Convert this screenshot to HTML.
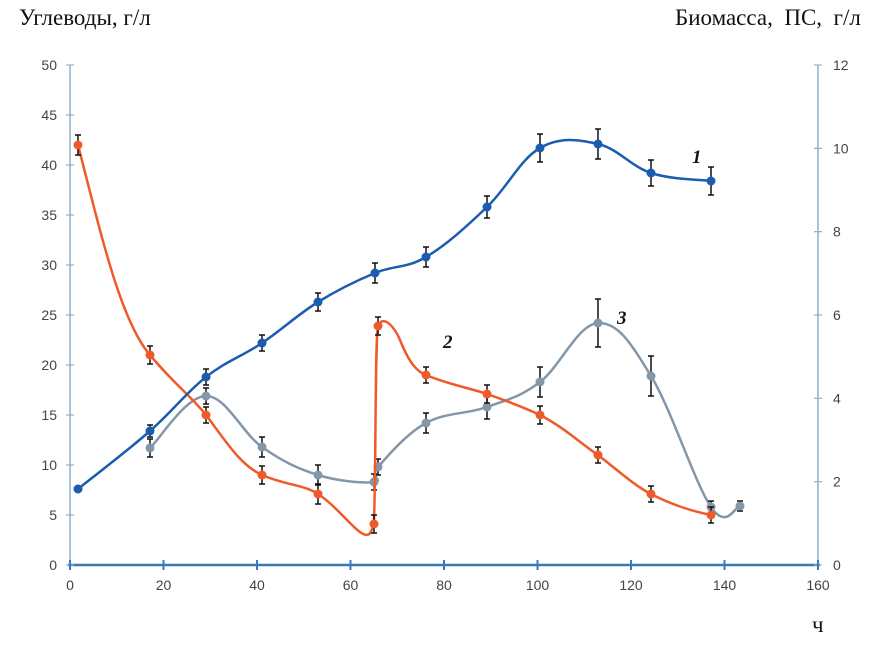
<!DOCTYPE html>
<html><head><meta charset="utf-8"><style>
body{margin:0;background:#fff;}
svg{display:block;}
.t{font-family:"Liberation Sans",sans-serif;font-size:14px;fill:#444;}
.h{font-family:"Liberation Serif",serif;font-size:23px;fill:#111;}
.n{font-family:"Liberation Serif",serif;font-size:19px;font-style:italic;font-weight:bold;fill:#111;}
</style></head><body>
<svg width="886" height="650" viewBox="0 0 886 650">
<text class="h" x="19" y="25">Углеводы, г/л</text>
<text class="h" x="675" y="25" xml:space="preserve">Биомасса,  ПС,  г/л</text>
<text class="h" x="812" y="632">ч</text>
<g stroke="#8fb0c8" stroke-width="1.5">
<line x1="70" y1="65" x2="70" y2="565"/>
<line x1="818" y1="65" x2="818" y2="565"/>
</g>
<line x1="68" y1="565" x2="820" y2="565" stroke="#3f78b8" stroke-width="2.5"/>
<g stroke="#8fb0c8" stroke-width="1.2" id="ticks"></g>
<g class="t" text-anchor="end" id="ly"></g>
<g class="t" text-anchor="start" id="ry"></g>
<g class="t" text-anchor="middle" id="xl"></g>
<g id="plot"></g>
<text class="n" x="692" y="163">1</text>
<text class="n" x="443" y="348">2</text>
<text class="n" x="617" y="324">3</text>
</svg>
<script>
const NS="http://www.w3.org/2000/svg";
function el(p,t,a,tx){const e=document.createElementNS(NS,t);for(const k in a)e.setAttribute(k,a[k]);if(tx!==undefined)e.textContent=tx;document.getElementById(p).appendChild(e);}
for(let i=0;i<=10;i++){const y=565-i*50;el("ticks","line",{x1:66,x2:74,y1:y,y2:y});el("ly","text",{x:57,y:y+5},String(i*5));}
for(let i=0;i<=6;i++){const y=565-i*500/6;el("ticks","line",{x1:814,x2:822,y1:y,y2:y});el("ry","text",{x:833,y:y+5},String(i*2));}
for(let i=0;i<=8;i++){const x=70+i*93.5;el("ticks","line",{x1:x,x2:x,y1:560,y2:570,stroke:"#3f78b8","stroke-width":2});el("xl","text",{x:x,y:590},String(i*20));}
function cr(pts,t){t=t||0.18;let d="M"+pts[0][0]+","+pts[0][1];for(let i=0;i<pts.length-1;i++){const p0=pts[i-1]||pts[i],p1=pts[i],p2=pts[i+1],p3=pts[i+2]||p2;d+=" C"+(p1[0]+(p2[0]-p0[0])*t)+","+(p1[1]+(p2[1]-p0[1])*t)+" "+(p2[0]-(p3[0]-p1[0])*t)+","+(p2[1]-(p3[1]-p1[1])*t)+" "+p2[0]+","+p2[1];}return d;}
function series(pts,col,err,curve,t){el("plot","path",{d:typeof curve==="string"?curve:cr(curve||pts,t),fill:"none",stroke:col,"stroke-width":2.5});
pts.forEach((p,i)=>{const e=err[i];if(e){el("plot","path",{d:`M${p[0]},${p[1]-e}V${p[1]+e}M${p[0]-3},${p[1]-e}h6M${p[0]-3},${p[1]+e}h6`,stroke:"#111","stroke-width":1.5,fill:"none"});}el("plot","circle",{cx:p[0],cy:p[1],r:4.5,fill:col});});}
const gray=[[150,448],[206,396],[262,447],[318,475],[374,482],[378,467],[426,423],[487,407],[540,382],[598,323],[651,376],[711,507],[740,506]];
series(gray,"#8497a8",[9,8,10,10,8,8,10,12,15,24,20,6,5]);
const orange=[[78,145],[150,355],[206,415],[262,475],[318,494],[374,524],[378,326],[426,375],[487,394],[540,415],[598,455],[651,494],[711,515]];
const od="M78,145 C100,230 120,320 150,355 C175,385 190,395 206,415 C225,440 240,465 262,475 C285,485 305,485 318,494 C335,505 350,525 360,532 C368,538 372,535 374,520 C376,470 375,340 378,326 C382,316 392,322 400,340 C410,365 418,372 426,375 C450,385 470,388 487,394 C510,402 525,408 540,415 C565,428 580,443 598,455 C620,472 635,486 651,494 C672,505 695,512 711,515";
series(orange,"#f0592a",[10,9,8,9,10,9,9,8,9,9,8,8,8],od);
const blue=[[78,489],[150,431],[206,377],[262,343],[318,302],[375,273],[426,257],[487,207],[540,148],[598,144],[651,173],[711,181]];
series(blue,"#1c5cae",[0,6,8,8,9,10,10,11,14,15,13,14]);
</script>
</body></html>
